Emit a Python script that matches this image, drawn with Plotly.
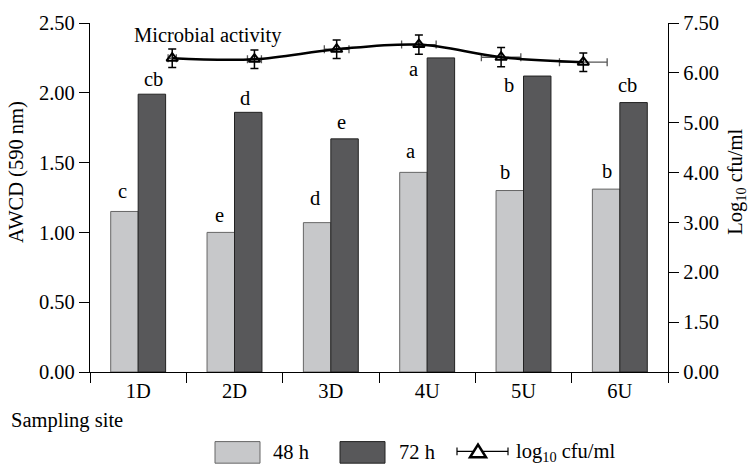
import numpy as np
import plotly.graph_objects as go

# ---- data ----
sites = ["1D", "2D", "3D", "4U", "5U", "6U"]
awcd_48h = [1.15, 1.00, 1.07, 1.43, 1.30, 1.31]
awcd_72h = [1.99, 1.86, 1.67, 2.25, 2.12, 1.93]
letters_48h = ["c", "e", "d", "a", "b", "b"]
letters_72h = ["cb", "d", "e", "a", "b", "cb"]

log_cfu = [6.44, 6.41, 6.71, 6.85, 6.47, 6.32]
log_cfu_err = [0.28, 0.28, 0.28, 0.29, 0.29, 0.28]
site_err = [0.05, 0.085, 0.15, 0.21, 0.24, 0.29]

left_ticks = [0.0, 0.5, 1.0, 1.5, 2.0, 2.5]
right_ticks = [0.00, 1.50, 2.00, 3.00, 4.00, 5.00, 6.00, 7.50]

# ---- styling ----
FONT = "Liberation Serif"
FS = 20.5
LIGHT = "#c7c8ca"
DARK = "#58585a"
W, H = 751, 467
ML, MR, MT, MB = 90, 83, 16, 95
PW, PH = W - ML - MR, H - MT - MB

# label offsets (pixels) for the significance letters
off_48h = [(-2, 20), (-1, 17), (-2, 25), (-3, 21), (-5, 19), (1, 18)]
off_72h = [(2, 15), (-3, 14), (-3, 17), (-27, -11), (-28, -9), (-6, 18)]


def px_x(p):
    return (p - ML) / PW


def px_y(p):
    return (H - MB - p) / PH


# the right axis has evenly spaced, unevenly valued ticks
right_pos = np.arange(len(right_ticks))


def to_right(v):
    return np.interp(v, right_ticks, right_pos)


line_y = to_right(np.array(log_cfu))
err_up = to_right(np.array(log_cfu) + np.array(log_cfu_err)) - line_y
err_dn = line_y - to_right(np.array(log_cfu) - np.array(log_cfu_err))
line_x = np.arange(1, len(sites) + 1)

fig = go.Figure()
fig.add_trace(go.Bar(
    x=sites, y=awcd_48h, name="48 h",
    marker=dict(color=LIGHT, line=dict(color="#666666", width=1)),
    showlegend=False,
))
fig.add_trace(go.Bar(
    x=sites, y=awcd_72h, name="72 h",
    marker=dict(color=DARK, line=dict(color="#222222", width=1)),
    showlegend=False,
))
fig.add_trace(go.Scatter(
    x=line_x, y=line_y, xaxis="x2", yaxis="y2", mode="lines+markers",
    line=dict(color="black", width=2.5, shape="spline", smoothing=1),
    marker=dict(symbol="triangle-up-open", size=10, color="black",
                line=dict(color="black", width=2)),
    error_y=dict(type="data", array=err_up, arrayminus=err_dn, symmetric=False,
                 color="black", thickness=1.5, width=4),
    error_x=dict(type="data", array=site_err, color="#555555",
                 thickness=1.3, width=4),
    showlegend=False, cliponaxis=False,
))

BARGAP = 0.43
half = (1 - BARGAP) / 4  # offset of each bar centre from the category centre

ann = []
for i in range(len(sites)):
    for val, lab, off, sign in ((awcd_48h[i], letters_48h[i], off_48h[i], -1),
                                (awcd_72h[i], letters_72h[i], off_72h[i], 1)):
        ann.append(dict(x=i + sign * half, y=val, xref="x", yref="y", text=lab,
                        showarrow=False, xanchor="center", yanchor="middle",
                        xshift=off[0], yshift=off[1],
                        font=dict(family=FONT, size=FS, color="black")))

txt = dict(family=FONT, size=FS, color="black")
ann += [
    dict(x=px_x(16), y=px_y(168), xref="paper", yref="paper", text="AWCD (590 nm)",
         textangle=-90, showarrow=False, xanchor="center", yanchor="middle", font=txt),
    dict(x=px_x(737), y=px_y(178), xref="paper", yref="paper",
         text="Log<sub>10</sub> cfu/ml",
         textangle=-90, showarrow=False, xanchor="center", yanchor="middle", font=txt),
    dict(x=px_x(132), y=px_y(29), xref="paper", yref="paper", text="Microbial activity",
         showarrow=False, xanchor="left", yanchor="middle", font=txt),
    dict(x=px_x(9), y=px_y(421), xref="paper", yref="paper", text="Sampling site",
         showarrow=False, xanchor="left", yanchor="middle", font=txt),
    dict(x=px_x(271), y=px_y(454), xref="paper", yref="paper", text="48 h",
         showarrow=False, xanchor="left", yanchor="middle", font=txt),
    dict(x=px_x(397), y=px_y(454), xref="paper", yref="paper", text="72 h",
         showarrow=False, xanchor="left", yanchor="middle", font=txt),
    dict(x=px_x(514), y=px_y(454), xref="paper", yref="paper",
         text="log<sub>10</sub> cfu/ml",
         showarrow=False, xanchor="left", yanchor="middle", font=txt),
]

shapes = [
    dict(type="rect", xref="paper", yref="paper",
         x0=px_x(215), x1=px_x(260), y0=px_y(465), y1=px_y(443),
         fillcolor=LIGHT, line=dict(color="#666666", width=1)),
    dict(type="rect", xref="paper", yref="paper",
         x0=px_x(340), x1=px_x(385), y0=px_y(465), y1=px_y(443),
         fillcolor=DARK, line=dict(color="#222222", width=1)),
    dict(type="line", xref="paper", yref="paper",
         x0=px_x(457), x1=px_x(508), y0=px_y(453), y1=px_y(453),
         line=dict(color="black", width=1.2)),
    dict(type="line", xref="paper", yref="paper",
         x0=px_x(457), x1=px_x(457), y0=px_y(449), y1=px_y(457),
         line=dict(color="black", width=1.2)),
    dict(type="line", xref="paper", yref="paper",
         x0=px_x(508), x1=px_x(508), y0=px_y(449), y1=px_y(457),
         line=dict(color="black", width=1.2)),
    dict(type="path", xref="paper", yref="paper",
         path=(f"M {px_x(470)},{px_y(459)} L {px_x(486)},{px_y(459)} "
               f"L {px_x(478)},{px_y(446)} Z"),
         fillcolor="white", line=dict(color="black", width=2.5)),
]

axis_common = dict(showline=True, linecolor="black", linewidth=1.2, ticks="outside",
                   ticklen=10, tickwidth=1.2, tickcolor="black", showgrid=False,
                   zeroline=False, tickfont=txt)

fig.update_layout(
    width=W, height=H, margin=dict(l=ML, r=MR, t=MT, b=MB),
    paper_bgcolor="white", plot_bgcolor="white",
    barmode="group", bargap=BARGAP, bargroupgap=0,
    font=txt,
    xaxis=dict(type="category", range=[-0.5, 5.5], tickson="boundaries", **axis_common),
    yaxis=dict(range=[0, 2.5], tickvals=left_ticks,
               ticktext=[f"{v:.2f}" for v in left_ticks], **axis_common),
    yaxis2=dict(overlaying="y", side="right", range=[0, len(right_ticks) - 1],
                tickvals=right_pos, ticktext=[f"{v:.2f}" for v in right_ticks],
                **axis_common),
    xaxis2=dict(overlaying="x", range=[0, 7.03], visible=False),
    annotations=ann, shapes=shapes,
)

fig.write_html("out.html")
